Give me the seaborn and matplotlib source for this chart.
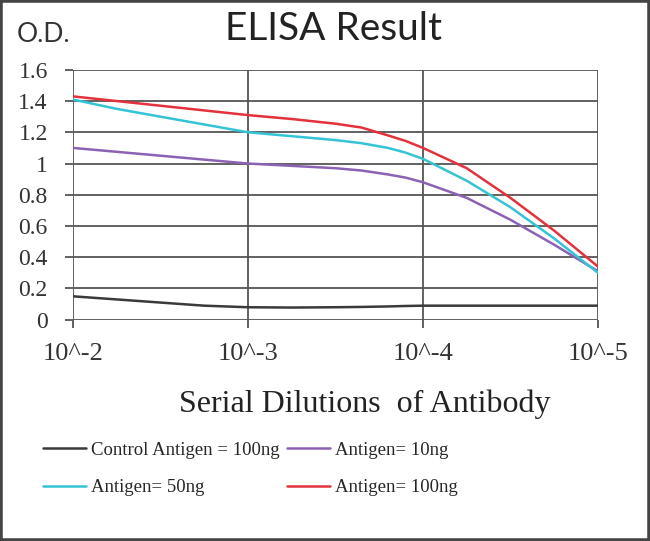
import numpy as np
import pandas as pd
import matplotlib.pyplot as plt
import seaborn as sns
from matplotlib.patches import Rectangle

# =========================================================
# DATA
# x = dilution exponent (10^-x)
# =========================================================

dilution_exp = [2, 2.25, 2.5, 2.75, 3, 3.25, 3.5, 3.65, 3.8, 3.9, 4, 4.25, 4.5, 4.75, 5]
tick_exp = [2, 3, 4, 5]
tick_labels = ["10^-2", "10^-3", "10^-4", "10^-5"]

od_control_100 = [0.15, 0.13, 0.11, 0.09, 0.08, 0.078, 0.08, 0.082, 0.085, 0.088,
                  0.09, 0.09, 0.09, 0.09, 0.09]
od_antigen_10 = [1.10, 1.075, 1.05, 1.025, 1.00, 0.985, 0.97, 0.955, 0.93, 0.91,
                 0.88, 0.78, 0.64, 0.48, 0.31]
od_antigen_50 = [1.41, 1.35, 1.30, 1.25, 1.20, 1.175, 1.15, 1.13, 1.10, 1.07,
                 1.03, 0.89, 0.72, 0.52, 0.30]
od_antigen_100 = [1.43, 1.40, 1.37, 1.34, 1.31, 1.285, 1.255, 1.23, 1.18, 1.145,
                  1.10, 0.97, 0.78, 0.57, 0.34]

series_names = ["Control Antigen = 100ng", "Antigen= 10ng",
                "Antigen= 50ng", "Antigen= 100ng"]
series_colors = ["#3a3a3a", "#8c62b4", "#35c3d6", "#e3323c"]

# long form table for seaborn
df = pd.DataFrame({
    "exp": dilution_exp * 4,
    "od": od_control_100 + od_antigen_10 + od_antigen_50 + od_antigen_100,
    "series": np.repeat(series_names, len(dilution_exp)),
})

# =========================================================
# STYLE
# =========================================================

sns.set_style("white")
plt.rcParams["font.family"] = ["Liberation Serif", "DejaVu Serif"]

fig = plt.figure(figsize=(6.5, 5.41), dpi=100)
ax = fig.add_axes([0.112, 0.409, 0.808, 0.462])

sns.lineplot(
    data=df, x="exp", y="od", hue="series",
    hue_order=series_names, palette=series_colors,
    linewidth=1.8, ax=ax, legend=False, sort=True
)

ax.set_xlim(2, 5)
ax.set_ylim(0, 1.6)
ax.set_xticks(tick_exp)
ax.set_xticklabels(tick_labels)
ax.set_yticks([0, 0.2, 0.4, 0.6, 0.8, 1, 1.2, 1.4, 1.6])
ax.set_yticklabels(["0", "0.2", "0.4", "0.6", "0.8", "1", "1.2", "1.4", "1.6"])

ax.grid(True, color="#555555", linewidth=1.3)
ax.set_axisbelow(True)
for s in ax.spines.values():
    s.set_visible(False)

ax.tick_params(axis="both", direction="out", length=6, width=1.3,
               color="#555555", colors="#333333", bottom=True, left=True)
ax.tick_params(axis="y", labelsize=17, pad=12)
ax.tick_params(axis="x", labelsize=19, pad=11)

ax.set_xlabel("Serial Dilutions  of Antibody", fontsize=23, color="#222222")
ax.xaxis.set_label_coords(0.556, -0.28)
ax.set_ylabel("")

# title and y axis caption (sans)
fig.text(0.513, 0.947, "ELISA Result", ha="center", va="center",
         fontsize=28, family=["Lato", "DejaVu Sans"], color="#222222")
fig.text(0.026, 0.936, "O.D.", ha="left", va="center",
         fontsize=19, family=["Lato", "DejaVu Sans"], color="#333333")

# legend, 2 columns, no frame
handles = ax.get_lines()[:4]
order = [0, 2, 1, 3]
fig.legend(
    [handles[i] for i in order], [series_names[i] for i in order],
    loc="upper left", bbox_to_anchor=(0.04, 0.215), ncol=2,
    frameon=False, fontsize=13.5, handlelength=2.3, labelspacing=1.1,
    columnspacing=0.4, handletextpad=0.25
)

# gray frame around whole picture
fig.patches.append(Rectangle((0, 0), 1, 1, transform=fig.transFigure,
                             fill=False, edgecolor="#444444", linewidth=4))

fig.savefig("out.png", dpi=100)
